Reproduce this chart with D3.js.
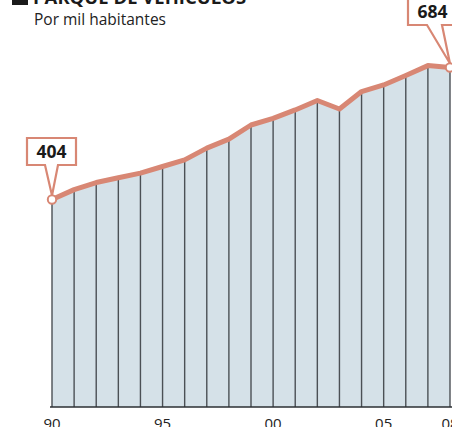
<!DOCTYPE html>
<html>
<head>
<meta charset="utf-8">
<script src="https://cdn.jsdelivr.net/npm/d3@7"></script>
<style>
  body { margin: 0; background: #fff; }
  svg { display: block; font-family: "Open Sans", sans-serif; }
</style>
</head>
<body>
<svg id="svg" width="452" height="427"></svg>
<script>
// Data: vehicles per 1000 inhabitants
var years = [1990, 1991, 1992, 1993, 1994, 1995, 1996, 1997, 1998, 1999,
             2000, 2001, 2002, 2003, 2004, 2005, 2006, 2007, 2008];
var values = [404, 425, 440, 450, 460, 474, 488, 513, 532, 562,
              576, 594, 614, 596, 633, 647, 667, 688, 684];
var tickYears = [1990, 1995, 2000, 2005, 2008];
var tickLabels = ["90", "95", "00", "05", "08"];
var callouts = [
  {year: 1990, value: 404, label: "404"},
  {year: 2008, value: 684, label: "684"}
];

var title = "PARQUE DE VEHÍCULOS";
var subtitle = "Por mil habitantes";

var lineColor = "#d88774";
var fillColor = "#d5e1e8";
var gridColor = "#4b5055";

var svg = d3.select("#svg");
var base = 407;

var x = d3.scaleLinear()
    .domain([1990, 2008])
    .range([52, 450]);

// 404 -> 199.5, 684 -> 67.5
var y = d3.scaleLinear()
    .domain([404, 684])
    .range([199.5, 67.5]);

var data = years.map(function(d, i){ return {year: d, value: values[i]}; });

// title
svg.append("rect")
    .attr("x", 12).attr("y", -12)
    .attr("width", 16).attr("height", 17)
    .attr("fill", "#1a1a1a");
svg.append("text")
    .attr("x", 33).attr("y", 4)
    .attr("font-size", 18.5)
    .attr("font-weight", "bold")
    .attr("fill", "#1a1a1a")
    .text(title);
svg.append("text")
    .attr("x", 34).attr("y", 25)
    .attr("font-size", 15.5)
    .attr("fill", "#222")
    .text(subtitle);

// area
var area = d3.area()
    .x(function(d){ return x(d.year); })
    .y0(base)
    .y1(function(d){ return y(d.value); });

svg.append("path").datum(data)
    .attr("fill", fillColor)
    .attr("d", area);

// vertical year lines
svg.selectAll(".vline")
    .data(data)
    .enter().append("line")
    .attr("class", "vline")
    .attr("x1", function(d){ return x(d.year); })
    .attr("x2", function(d){ return x(d.year); })
    .attr("y1", function(d){ return y(d.value); })
    .attr("y2", base)
    .attr("stroke", gridColor)
    .attr("stroke-width", 1.4);

// baseline
svg.append("line")
    .attr("x1", 50).attr("x2", 452)
    .attr("y1", base).attr("y2", base)
    .attr("stroke", "#2b2f33")
    .attr("stroke-width", 1.6);

// x axis labels
svg.selectAll(".xlab")
    .data(tickYears)
    .enter().append("text")
    .attr("class", "xlab")
    .attr("x", function(d){ return x(d); })
    .attr("y", 429)
    .attr("text-anchor", "middle")
    .attr("font-size", 15)
    .attr("fill", "#222")
    .text(function(d, i){ return tickLabels[i]; });

// line
var line = d3.line()
    .x(function(d){ return x(d.year); })
    .y(function(d){ return y(d.value); });

svg.append("path").datum(data)
    .attr("fill", "none")
    .attr("stroke", lineColor)
    .attr("stroke-width", 5)
    .attr("stroke-linejoin", "round")
    .attr("d", line);

// callouts
callouts.forEach(function(c){
  var cx = x(c.year), cy = y(c.value);
  var bw = 49, bh = 27;
  var bx, by, p0, p1;
  if (c.year == 1990) {
    bx = 27; by = 138;
    p0 = 45; p1 = 58;
  } else {
    bx = 408; by = -2;
    p0 = 427; p1 = 442;
  }
  var bottom = by + bh;
  var path = "M" + bx + "," + by +
      "H" + (bx + bw) + "V" + bottom +
      "H" + p1 + "L" + cx + "," + (cy - 4) +
      "L" + p0 + "," + bottom +
      "H" + bx + "Z";
  svg.append("path")
      .attr("d", path)
      .attr("fill", "#fff")
      .attr("stroke", lineColor)
      .attr("stroke-width", 2.2)
      .attr("stroke-linejoin", "miter");
  svg.append("text")
      .attr("x", bx + bw / 2)
      .attr("y", by + 20)
      .attr("text-anchor", "middle")
      .attr("font-size", 17.5)
      .attr("font-weight", "bold")
      .attr("fill", "#1a1a1a")
      .text(c.label);
  svg.append("circle")
      .attr("cx", cx).attr("cy", cy)
      .attr("r", 4.2)
      .attr("fill", "#fff")
      .attr("stroke", lineColor)
      .attr("stroke-width", 2);
});
</script>
</body>
</html>
